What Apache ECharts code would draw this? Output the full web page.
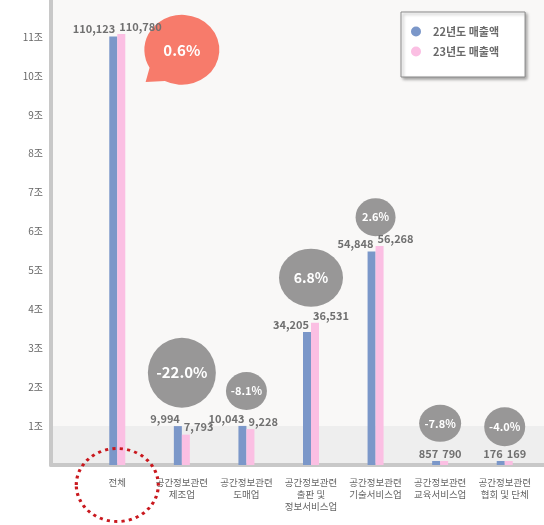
<!DOCTYPE html>
<html><head><meta charset="utf-8">
<script src="https://cdn.jsdelivr.net/npm/echarts@6/dist/echarts.min.js"></script>
<style>html,body{margin:0;padding:0;background:#fff}#c{width:544px;height:525px}</style>
</head><body><div id="c"></div>
<script>
// ---- data ----
const categories = ['전체', '공간정보관련\n제조업', '공간정보관련\n도매업', '공간정보관련\n출판 및\n정보서비스업', '공간정보관련\n기술서비스업', '공간정보관련\n교육서비스업', '공간정보관련\n협회 및 단체'];
const seriesNames = ['22년도 매출액', '23년도 매출액'];
const sales22 = [110123, 9994, 10043, 34205, 54848, 857, 176];   // 억원
const sales23 = [110780, 7793, 9228, 36531, 56268, 790, 169];    // 억원
const yTickValues = [10000, 20000, 30000, 40000, 50000, 60000, 70000, 80000, 90000, 100000, 110000];
const yTickLabels = ['1조', '2조', '3조', '4조', '5조', '6조', '7조', '8조', '9조', '10조', '11조'];
const growth = sales22.map((v, i) => ((sales23[i] / v - 1) * 100).toFixed(1) + '%');

// ---- annotation layout (styling, not data) ----
const speechPath = 'path://M7.2 52.6 L3.5 67 L21.5 66 A35 35 0 1 0 7.2 52.6 Z';
const ellipsePath = 'path://M0 50 A50 50 0 1 1 100 50 A50 50 0 1 1 0 50 Z';
const bubbleLayout = [
  { cat: 1, y: 106700, size: [75, 70], font: 15, color: '#f77b6b', symbol: speechPath },
  { cat: 1, y: 23700, size: [68, 70], font: 15, color: '#989797', symbol: 'circle' },
  { cat: 2, y: 19000, size: [41, 38], font: 11, color: '#989797', symbol: 'circle' },
  { cat: 3, y: 48150, size: [64, 58], font: 14, color: '#989797', symbol: 'circle' },
  { cat: 4, y: 63700, size: [40, 38], font: 11, color: '#989797', symbol: 'circle' },
  { cat: 5, y: 10700, size: [42, 37], font: 11, color: '#989797', symbol: 'circle' },
  { cat: 6, y: 9850, size: [41, 39], font: 11, color: '#989797', symbol: 'circle' }
];
const AXIS_MAX = 119500;
const FONT = '"Noto Sans CJK KR", "Noto Sans", sans-serif';

const chart = echarts.init(document.getElementById('c'), null, { renderer: 'canvas' });
const bandColors = [];
for (let i = 0; i <= yTickValues.length + 1; i++) bandColors.push(i === 0 ? '#eeeeee' : '#f9f8f7');

const valueLabel = (align, off) => ({
  show: true, position: 'top', distance: 2, align: align, offset: off,
  fontFamily: FONT, fontSize: 11, fontWeight: 'bold', color: '#707070',
  formatter: p => p.value.toLocaleString('en-US')
});

chart.setOption({
  animation: false,
  textStyle: { fontFamily: FONT },
  grid: [
    { left: 51, right: 0, top: 0, bottom: 60, show: true, backgroundColor: '#f9f8f7', borderWidth: 0 },
    { left: 85, right: 7, top: 0, bottom: 60 }
  ],
  legend: {
    data: seriesNames, orient: 'vertical', left: 401, top: 12, icon: 'circle',
    itemWidth: 10, itemHeight: 10, itemGap: 9, padding: [14, 26, 20, 10],
    backgroundColor: '#fff', borderColor: '#8a8a8a', borderWidth: 1,
    shadowColor: 'rgba(0,0,0,0.35)', shadowBlur: 3, shadowOffsetX: 2, shadowOffsetY: 2,
    textStyle: { fontFamily: FONT, fontSize: 11, fontWeight: 'bold', color: '#6a6a6a', padding: [0, 0, 0, 7] }
  },
  xAxis: [
    { gridIndex: 0, type: 'category', data: [''], axisLine: { lineStyle: { color: '#c8c8c8', width: 4 } },
      axisTick: { show: false }, axisLabel: { show: false } },
    { gridIndex: 1, type: 'category', data: categories, axisLine: { show: false }, axisTick: { show: false },
      axisLabel: { fontFamily: FONT, fontSize: 9.5, lineHeight: 12, color: '#666', margin: 11, interval: 0 } }
  ],
  yAxis: [
    { gridIndex: 0, type: 'value', min: 0, max: AXIS_MAX, interval: 10000,
      axisLine: { show: true, lineStyle: { color: '#c8c8c8', width: 4 } },
      axisTick: { show: false }, splitLine: { show: false },
      splitArea: { show: true, areaStyle: { color: bandColors } },
      axisLabel: { fontFamily: FONT, fontSize: 10, color: '#666', margin: 8,
        formatter: v => { const i = yTickValues.indexOf(v); return i >= 0 ? yTickLabels[i] : ''; } } },
    { gridIndex: 1, type: 'value', min: 0, max: AXIS_MAX, show: false }
  ],
  series: [
    { type: 'scatter', xAxisIndex: 1, yAxisIndex: 1, clip: false, z: 1, silent: true,
      data: bubbleLayout.map((b, i) => ({
        value: [b.cat, b.y], symbol: b.symbol, symbolSize: b.size,
        itemStyle: { color: b.color, opacity: 1 },
        label: { show: true, position: 'inside', formatter: growth[i], color: '#fff',
          fontFamily: FONT, fontWeight: 'bold', fontSize: b.font }
      })) },
    { name: seriesNames[0], type: 'bar', xAxisIndex: 1, yAxisIndex: 1, data: sales22, z: 3,
      barWidth: 8, barGap: '0%', barMinHeight: 4, itemStyle: { color: '#7b97c9' },
      label: valueLabel('right', [2, 0]) },
    { name: seriesNames[1], type: 'bar', xAxisIndex: 1, yAxisIndex: 1, data: sales23, z: 3,
      barWidth: 8, barGap: '0%', barMinHeight: 4, itemStyle: { color: '#fbbfe3' },
      label: valueLabel('left', [-2, 0]) },
    { type: 'scatter', xAxisIndex: 1, yAxisIndex: 1, clip: false, z: 6, silent: true,
      data: [{ value: [0, -5140] }], symbol: ellipsePath, symbolSize: [82, 73],
      itemStyle: { color: 'rgba(0,0,0,0)', borderColor: '#c9181e', borderWidth: 3, borderType: [3, 4], opacity: 1 } }
  ]
});
</script></body></html>
